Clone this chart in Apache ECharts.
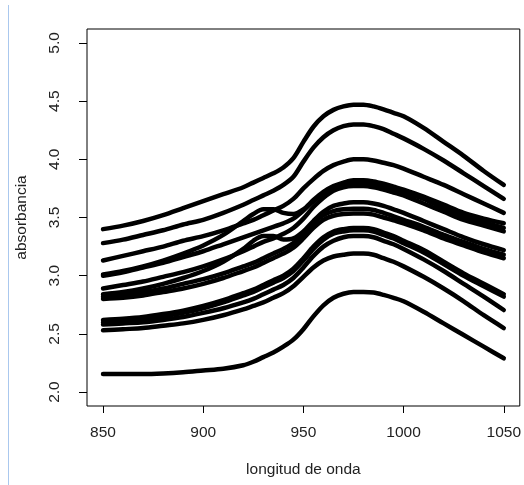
<!DOCTYPE html>
<html>
<head>
<meta charset="utf-8">
<script src="https://cdn.jsdelivr.net/npm/echarts@6/dist/echarts.min.js"></script>
<style>
  html, body { margin: 0; padding: 0; background: #fff; }
  #chart { width: 524px; height: 485px; }
</style>
</head>
<body>
<div id="chart"></div>
<script>
// wavelengths (nm) at which each spectrum is read
const wavelengths = [850, 860, 870, 880, 890, 900, 910, 920, 925, 930, 935, 940, 945, 950, 955, 960, 965, 970, 975, 980, 985, 990, 995, 1000, 1010, 1020, 1030, 1040, 1050]

const absA = [3.40, 3.43, 3.47, 3.52, 3.58, 3.64, 3.70, 3.76, 3.80, 3.84, 3.88, 3.93, 4.01, 4.15, 4.28, 4.37, 4.425, 4.455, 4.47, 4.47, 4.455, 4.43, 4.40, 4.37, 4.27, 4.15, 4.03, 3.90, 3.78]
const absB = [3.28, 3.31, 3.35, 3.39, 3.44, 3.48, 3.54, 3.61, 3.65, 3.69, 3.73, 3.78, 3.85, 3.98, 4.10, 4.19, 4.25, 4.285, 4.30, 4.30, 4.285, 4.26, 4.22, 4.18, 4.09, 3.99, 3.88, 3.77, 3.66]
const absC = [3.13, 3.17, 3.21, 3.25, 3.30, 3.34, 3.39, 3.45, 3.48, 3.52, 3.56, 3.60, 3.66, 3.75, 3.83, 3.90, 3.95, 3.98, 4.00, 4.00, 3.99, 3.97, 3.95, 3.92, 3.85, 3.78, 3.70, 3.62, 3.54]
const absD = [3.01, 3.04, 3.08, 3.13, 3.19, 3.26, 3.35, 3.47, 3.53, 3.57, 3.57, 3.54, 3.53, 3.57, 3.65, 3.72, 3.77, 3.80, 3.82, 3.82, 3.81, 3.79, 3.765, 3.74, 3.68, 3.61, 3.54, 3.49, 3.45]
const absE = [3.00, 3.03, 3.07, 3.11, 3.16, 3.21, 3.27, 3.33, 3.36, 3.39, 3.42, 3.45, 3.49, 3.56, 3.64, 3.71, 3.76, 3.79, 3.80, 3.80, 3.79, 3.77, 3.745, 3.72, 3.66, 3.58, 3.51, 3.46, 3.41]
const absF = [2.89, 2.92, 2.95, 2.99, 3.03, 3.08, 3.14, 3.21, 3.25, 3.29, 3.32, 3.36, 3.41, 3.49, 3.59, 3.67, 3.73, 3.76, 3.77, 3.77, 3.76, 3.74, 3.715, 3.69, 3.62, 3.55, 3.48, 3.43, 3.38]
const absG = [2.84, 2.86, 2.89, 2.93, 2.98, 3.04, 3.12, 3.23, 3.30, 3.34, 3.34, 3.31, 3.32, 3.38, 3.47, 3.55, 3.60, 3.62, 3.63, 3.63, 3.62, 3.60, 3.57, 3.54, 3.47, 3.40, 3.33, 3.27, 3.22]
const absH = [2.82, 2.84, 2.86, 2.89, 2.93, 2.97, 3.02, 3.08, 3.11, 3.15, 3.19, 3.23, 3.28, 3.36, 3.45, 3.52, 3.555, 3.57, 3.575, 3.575, 3.565, 3.54, 3.51, 3.48, 3.42, 3.35, 3.29, 3.23, 3.18]
const absI = [2.80, 2.81, 2.83, 2.86, 2.89, 2.93, 2.98, 3.04, 3.07, 3.11, 3.15, 3.19, 3.24, 3.32, 3.41, 3.48, 3.515, 3.53, 3.535, 3.535, 3.525, 3.50, 3.475, 3.45, 3.39, 3.32, 3.26, 3.20, 3.15]
const absJ = [2.62, 2.63, 2.645, 2.67, 2.70, 2.74, 2.79, 2.85, 2.88, 2.92, 2.96, 3.00, 3.06, 3.15, 3.25, 3.33, 3.38, 3.40, 3.41, 3.41, 3.40, 3.37, 3.34, 3.30, 3.22, 3.12, 3.02, 2.93, 2.84]
const absK = [2.60, 2.61, 2.625, 2.65, 2.68, 2.72, 2.77, 2.83, 2.86, 2.90, 2.94, 2.98, 3.04, 3.13, 3.23, 3.31, 3.36, 3.38, 3.39, 3.39, 3.38, 3.35, 3.32, 3.28, 3.20, 3.10, 3.00, 2.91, 2.82]
const absL = [2.58, 2.59, 2.60, 2.62, 2.645, 2.68, 2.72, 2.77, 2.80, 2.84, 2.88, 2.92, 2.98, 3.07, 3.17, 3.25, 3.30, 3.33, 3.34, 3.34, 3.33, 3.30, 3.27, 3.23, 3.14, 3.04, 2.93, 2.82, 2.705]
const absM = [2.53, 2.54, 2.55, 2.57, 2.59, 2.62, 2.66, 2.71, 2.74, 2.77, 2.81, 2.85, 2.91, 2.99, 3.07, 3.13, 3.165, 3.18, 3.19, 3.19, 3.18, 3.15, 3.12, 3.08, 2.99, 2.89, 2.78, 2.66, 2.55]
const absN = [2.155, 2.155, 2.155, 2.16, 2.17, 2.185, 2.20, 2.23, 2.26, 2.30, 2.34, 2.39, 2.45, 2.54, 2.65, 2.745, 2.81, 2.845, 2.86, 2.86, 2.855, 2.835, 2.81, 2.78, 2.69, 2.59, 2.49, 2.39, 2.29]

const spectra = [absA, absB, absC, absD, absE, absF, absG, absH, absI, absJ, absK, absL, absM, absN]

const xTicks = [850, 900, 950, 1000, 1050]
const yTicks = [2.0, 2.5, 3.0, 3.5, 4.0, 4.5, 5.0]

const chart = echarts.init(document.getElementById('chart'), null, { renderer: 'canvas' })

const font = 'Liberation Sans, Arial, sans-serif'

const option = {
  animation: false,
  backgroundColor: '#fff',
  grid: {
    left: 87,
    top: 29,
    width: 434,
    height: 377,
    show: true,
    borderColor: '#000',
    borderWidth: 1,
    backgroundColor: 'transparent'
  },
  xAxis: {
    type: 'value',
    min: 842,
    max: 1058,
    name: 'longitud de onda',
    nameLocation: 'middle',
    nameGap: 56,
    nameTextStyle: { color: '#222', fontSize: 15.5, fontFamily: font },
    axisLine: { show: false },
    splitLine: { show: false },
    axisTick: { show: true, length: 7, customValues: xTicks, lineStyle: { color: '#000' } },
    axisLabel: {
      customValues: xTicks,
      margin: 19,
      color: '#222',
      fontSize: 15.5,
      fontFamily: font,
      formatter: v => String(v)
    }
  },
  yAxis: {
    type: 'value',
    min: 1.88,
    max: 5.12,
    name: 'absorbancia',
    nameLocation: 'middle',
    nameGap: 57,
    nameTextStyle: { color: '#222', fontSize: 15.5, fontFamily: font },
    axisLine: { show: false },
    splitLine: { show: false },
    axisTick: { show: true, length: 8, customValues: yTicks, lineStyle: { color: '#000' } },
    axisLabel: {
      customValues: yTicks,
      rotate: 90,
      margin: 24,
      color: '#222',
      fontSize: 15.5,
      fontFamily: font,
      formatter: v => v.toFixed(1)
    }
  },
  graphic: [{
    type: 'line',
    shape: { x1: 8.5, y1: 5, x2: 8.5, y2: 485 },
    style: { stroke: '#aac8ee', lineWidth: 1 }
  }],
  series: spectra.map(vals => ({
    type: 'line',
    data: wavelengths.map((w, i) => [w, vals[i]]),
    smooth: 0.3,
    symbol: 'none',
    lineStyle: { color: '#000', width: 4.5, cap: 'round', join: 'round' }
  }))
}

chart.setOption(option)
</script>
</body>
</html>
